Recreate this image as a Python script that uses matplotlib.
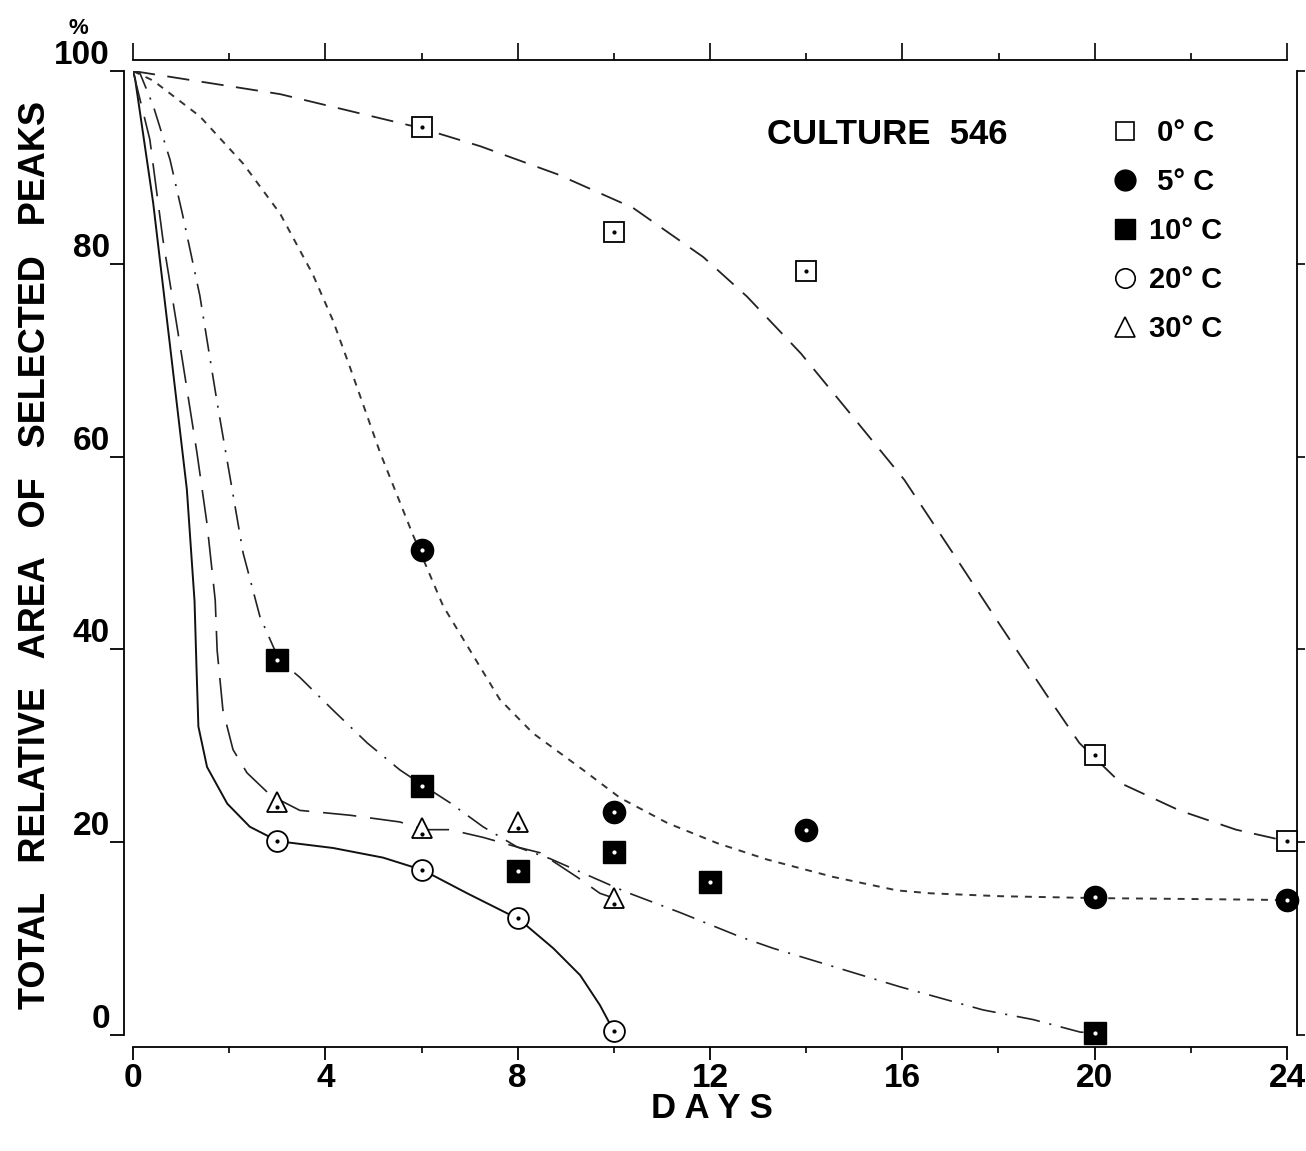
import matplotlib
matplotlib.use("Agg")
import matplotlib.pyplot as plt
from matplotlib.lines import Line2D
from matplotlib.ticker import MultipleLocator
from matplotlib import font_manager

names = {f.name for f in font_manager.fontManager.ttflist}
narrow = 'Liberation Sans Narrow' if 'Liberation Sans Narrow' in names else 'Liberation Sans'
plt.rcParams['font.family'] = [narrow, 'DejaVu Sans']
plt.rcParams['font.weight'] = 'bold'
plt.rcParams['lines.scale_dashes'] = False

# measured points (days, % of initial area)
days_0c = [6, 10, 14, 20, 24]
area_0c = [94.2, 83.3, 79.3, 29.0, 20.1]
days_5c = [6, 10, 14, 20, 24]
area_5c = [50.3, 23.1, 21.3, 14.3, 14.0]
days_10c = [3, 6, 8, 10, 12, 20]
area_10c = [38.9, 25.8, 17.0, 19.0, 15.9, 0.2]
days_20c = [3, 6, 8, 10]
area_20c = [20.1, 17.1, 12.1, 0.4]
days_30c = [3, 6, 8, 10]
area_30c = [24.2, 21.5, 22.1, 14.2]

# hand drawn fitted curves
cx_0c = [0, 3.06, 5.97, 7.22, 8.82, 10.4, 11.86, 12.77, 13.89, 14.91, 16.04,
         17.05, 18.01, 18.97, 19.68, 20.55, 21.76, 22.94, 24.0]
cy_0c = [100, 97.6, 94.1, 92.2, 89.3, 85.8, 80.7, 76.6, 70.7, 64.5, 57.6,
         50.0, 42.7, 35.5, 30.3, 26.1, 23.3, 21.3, 20.1]
cx_5c = [0, 0.42, 1.39, 2.29, 3.06, 3.74, 4.16, 4.51, 5.14, 5.82, 6.45, 7.63,
         8.32, 9.36, 10.13, 11.11, 12.15, 13.19, 14.56, 15.89, 16.58, 18.03,
         20.03, 22.15, 23.98]
cy_5c = [100, 99.0, 95.3, 90.4, 85.2, 78.9, 74.1, 69.3, 60.4, 51.9, 44.5, 34.8,
         31.3, 27.5, 24.6, 22.0, 19.9, 18.2, 16.4, 15.0, 14.7, 14.4,
         14.2, 14.1, 14.0]
cx_10c = [0, 0.15, 0.42, 0.77, 1.04, 1.39, 1.75, 2.02, 2.29, 2.64, 3.04, 3.47,
          4.16, 4.87, 5.55, 6.03, 6.59, 7.28, 7.99, 8.67, 10.27, 11.38, 12.62,
          13.31, 15.95, 17.68, 18.72, 19.7, 20.05]
cy_10c = [100, 99.7, 96.4, 90.8, 84.9, 76.7, 65.6, 57.8, 50.0, 43.4, 38.9, 37.1,
          33.7, 30.3, 27.5, 25.9, 24.1, 21.6, 19.5, 18.3, 14.8, 12.7, 10.2,
          9.0, 5.0, 2.6, 1.6, 0.3, 0.2]
cx_20c = [0, 0.04, 0.42, 0.77, 1.12, 1.28, 1.32, 1.36, 1.54, 1.96, 2.43, 3.02,
          4.16, 5.2, 6.03, 6.95, 8.03, 8.74, 9.3, 9.71, 10.0]
cy_20c = [100, 99.3, 86.3, 71.5, 56.6, 45.0, 38.2, 32.0, 27.8, 24.0, 21.6, 20.1,
          19.4, 18.4, 17.1, 14.7, 12.0, 9.0, 6.2, 3.1, 0.4]
cx_30c = [0, 0.35, 0.62, 0.98, 1.33, 1.54, 1.71, 1.75, 1.87, 2.08, 2.37, 2.79,
          3.04, 3.47, 4.51, 5.55, 6.05, 6.59, 7.28, 7.99, 8.47, 9.23, 9.71, 10.0]
cy_30c = [100, 92.9, 82.6, 71.5, 60.4, 53.0, 45.1, 39.9, 33.7, 29.6, 27.2, 25.2,
          24.4, 23.3, 22.8, 22.1, 21.3, 21.3, 20.5, 19.5, 18.9, 16.4, 14.7, 14.2]

labels = [' 0° C', ' 5° C', '10° C', '20° C', '30° C']

fig = plt.figure(figsize=(13.06, 11.51), dpi=100)
ax = fig.add_axes([133 / 1306, 116 / 1151, 1154 / 1306, 964 / 1151])
ax.set_xlim(0, 24)
ax.set_ylim(0, 100)

# curves
ax.plot(cx_0c, cy_0c, color='#222', lw=1.3, ls=(0, (16, 9)))
ax.plot(cx_5c, cy_5c, color='#333', lw=1.4, ls=(0, (5, 5)))
ax.plot(cx_10c, cy_10c, color='#222', lw=1.2, ls=(0, (17, 7, 1.5, 7)))
ax.plot(cx_20c, cy_20c, color='#111', lw=1.4, ls='-')
ax.plot(cx_30c, cy_30c, color='#222', lw=1.2, ls=(0, (24, 10)))

# markers
open_kw = dict(ls='none', mfc='white', mec='black', mew=1.3, clip_on=False, zorder=5)
fill_kw = dict(ls='none', mfc='black', mec='black', mew=1, clip_on=False, zorder=5)
ax.plot(days_0c, area_0c, marker='s', ms=14, **open_kw)
ax.plot(days_5c, area_5c, marker='o', ms=16, **fill_kw)
ax.plot(days_10c, area_10c, marker='s', ms=16, **fill_kw)
ax.plot(days_20c, area_20c, marker='o', ms=15, **open_kw)
ax.plot(days_30c, area_30c, marker='^', ms=15, **open_kw)
# little centre dots
for xs, ys, c in [(days_0c, area_0c, 'black'), (days_5c, area_5c, 'white'),
                  (days_10c, area_10c, 'white'), (days_20c, area_20c, 'black')]:
    ax.plot(xs, ys, ls='none', marker='o', ms=2, mfc=c, mec=c, clip_on=False, zorder=6)
ax.plot(days_30c, [v - 0.6 for v in area_30c], ls='none', marker='o', ms=2,
        mfc='black', mec='black', clip_on=False, zorder=6)

# axes frame: detached spines
for s in ['top', 'right']:
    ax.spines[s].set_visible(False)
ax.spines['left'].set_position(('axes', -9 / 1154))
ax.spines['bottom'].set_position(('axes', -12 / 964))
ax.spines['left'].set_linewidth(1.3)
ax.spines['bottom'].set_linewidth(1.3)

ax.set_xticks([0, 4, 8, 12, 16, 20, 24])
ax.xaxis.set_minor_locator(MultipleLocator(2))
ax.set_yticks([0, 20, 40, 60, 80, 100])
ax.tick_params(axis='x', which='major', direction='out', length=9.5, width=1.3,
               pad=2, labelsize=24)
ax.tick_params(axis='x', which='minor', direction='out', length=4, width=1.2)
ax.tick_params(axis='y', which='major', direction='out', length=10, width=1.3,
               pad=0, labelsize=24)
plt.setp(ax.get_yticklabels(), va='bottom')

top = ax.secondary_xaxis(1 + 11 / 964)
top.set_xticks([0, 4, 8, 12, 16, 20, 24])
top.xaxis.set_minor_locator(MultipleLocator(2))
top.tick_params(axis='x', which='major', direction='out', length=12, width=1.2,
                labeltop=False)
top.tick_params(axis='x', which='minor', direction='out', length=5, width=1.2)
top.spines['top'].set_linewidth(1.3)

right = ax.secondary_yaxis(1 + 10 / 1154)
right.set_yticks([0, 20, 40, 60, 80, 100])
right.tick_params(axis='y', direction='out', length=6, width=1.2, labelright=False)
right.spines['right'].set_linewidth(1.3)

# texts
fig.text(0.027, 0.518, 'TOTAL   RELATIVE   AREA   OF   SELECTED   PEAKS', rotation=90,
         ha='center', va='center', fontsize=26, fontweight='bold')
fig.text(0.545, 0.037, 'D A Y S', ha='center', va='center', fontsize=25,
         fontweight='bold')
fig.text(0.06, 0.975, '%', ha='center', va='center', fontsize=16, fontweight='bold')
ax.text(0.654, 0.934, 'CULTURE  546', transform=ax.transAxes, ha='center',
        va='center', fontsize=25, fontweight='bold')

handles = [
    Line2D([], [], ls='none', marker='s', ms=13, mfc='white', mec='black', mew=1.2),
    Line2D([], [], ls='none', marker='o', ms=15, mfc='black', mec='black'),
    Line2D([], [], ls='none', marker='s', ms=14, mfc='black', mec='black'),
    Line2D([], [], ls='none', marker='o', ms=14, mfc='white', mec='black', mew=1.2),
    Line2D([], [], ls='none', marker='^', ms=14, mfc='white', mec='black', mew=1.2),
]
ax.legend(handles, labels, loc='upper left', bbox_to_anchor=(0.8346, 0.965),
          frameon=False, fontsize=21, labelspacing=0.72, handlelength=1.0,
          handletextpad=0.3, borderpad=0)

fig.savefig('out.png', dpi=100)
